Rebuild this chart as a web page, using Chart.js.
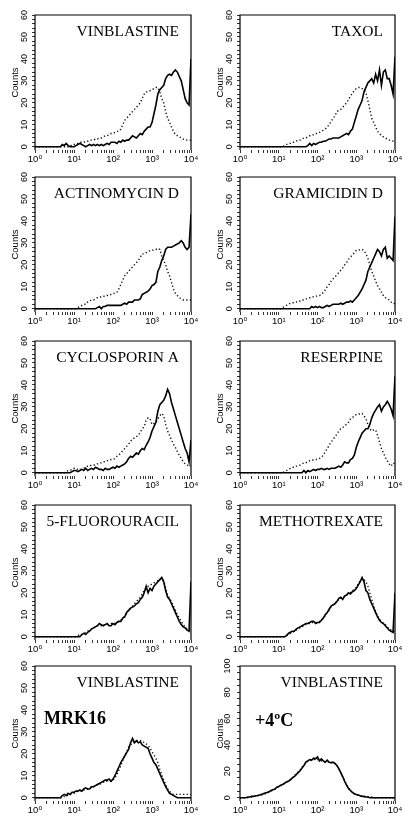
<!DOCTYPE html>
<html><head><meta charset="utf-8">
<script src="https://cdn.jsdelivr.net/npm/chart.js@4.4.0/dist/chart.umd.min.js"></script>
<style>
html,body{margin:0;padding:0;background:#fff;}
body{width:411px;height:829px;position:relative;overflow:hidden;}
canvas{position:absolute;}
</style></head><body>
<script>
// ---- channel positions (log10 of fluorescence) ----
const channelExp = [0,0.05,0.1,0.15,0.2,0.25,0.3,0.35,0.4,0.45,0.5,0.55,0.6,0.65,0.7,0.75,0.8,0.85,0.9,0.95,
1,1.05,1.1,1.15,1.2,1.25,1.3,1.35,1.4,1.45,1.5,1.55,1.6,1.65,1.7,1.75,1.8,1.85,1.9,1.95,
2,2.05,2.1,2.15,2.2,2.25,2.3,2.35,2.4,2.45,2.5,2.55,2.6,2.65,2.7,2.75,2.8,2.85,2.9,2.95,
3,3.05,3.1,3.15,3.2,3.25,3.3,3.35,3.4,3.45,3.5,3.55,3.6,3.65,3.7,3.75,3.8,3.85,3.9,3.95,4];

// ---- counts ----
const vinblastineSolid = [0,0,0,0,0,0,0,0,0,0,0,0,0,0,1,0.5,1.5,0.5,0,0,
0,0.5,1,1.5,1,0.5,0,0.5,1,0.5,1,0.5,1,0.5,1,0.5,1,1.5,1,2,
2,2,1.5,2.5,2,3,2.5,3,3,4,5,4.5,4,5,6,5.5,7,8,9,9,
11,15,19,24,26,27,28,31,32.5,33,32.5,34,35,34,32,30,26,22,20,19,40];
const vinblastineDotted = [0,0,0,0,0,0,0,0,0,0,0,0,0,0,0,0,0,0,0,1,
1,1.5,1.5,2,2,2,2.5,2.5,3,3,3,3.5,3.5,4,4,4.5,5,5,5.5,6,
6,6.5,7,7,8,10,12,13,14,15,16,17,18,19,20,22,24,25,25,25.5,
26,26.5,27,27,25,22,20,16,13,11,9,7,5.5,5,4.5,4,3.5,3,3,3,3];

const taxolSolid = [0,0,0,0,0,0,0,0,0,0,0,0,0,0,0,0,0,0,0,0,
0,0,0,0,0,0,0,0,0,0,0,0,0,0,0,0.5,1.5,0.5,1.5,1,
1.5,2,2,2.5,2.5,3,3.5,3.5,4,4,4,4,4.5,5,5.5,6,5.5,7,8,11,
14,17,19,21,25,27,29,30,31,29,33,30,35,28,34,35,31,31,28,24,41];
const taxolDotted = [0,0,0,0,0,0,0,0,0,0,0,0,0,0,0,0,0,0,0,0,
0,0,0,0.5,1,1.5,1.5,2,2,2.5,3,3,3.5,4,4,4.5,5,5,5.5,6,
6,6.5,7,7.5,8,9,10,11.5,13,14,16,16.5,17,18,19,20,21.5,23,24.5,25.5,
26.5,27,27,26.5,26,24.5,21,17,13,11,9,7,6,5,4.5,4,3.5,3,3,2.5,2];

const actinomycinSolid = [0,0,0,0,0,0,0,0,0,0,0,0,0,0,0,0,0,0,0,0,
0,0,0,0,0,0,0,0,0,0,0,0,0.5,1,0,1,1,1.5,1.5,1.5,
1.5,1.5,1.5,1.5,1.5,2,2.5,2,3,3,3,4,4,4,4.5,6.5,7,7.5,8,9,
10.5,11,12,17,19,22,24,27,28,28,28,28.5,29,29.5,30,31,30,28,27,28,43];
const actinomycinDotted = [0,0,0,0,0,0,0,0,0,0,0,0,0,0,0,0,0,0,0,0,
0,0,0.5,1,1.5,2,2,3,3.5,4,4,4.5,5,5,5.5,5.5,6,6,6.5,6.5,
7,7,7.5,9,11,13,15,16,17,18,19,20,21,22,23.5,25,25,25.5,26,26.5,
26.5,27,27,27.5,27,24,22,20,17,15,12,9,7,6,5,4.5,4,4,4,4,4];

const gramicidinSolid = [0,0,0,0,0,0,0,0,0,0,0,0,0,0,0,0,0,0,0,0,
0,0,0,0,0,0,0,0,0,0,0,0,0,0,0,0,0,1,0.5,1,
0.5,1,0.5,0.5,1,1.5,1,1.5,2,2,2,2,2.5,2,2.5,3,3,3.5,3,4,
5,6,7.5,9,11,13,17,19,21,23,25,27,26,24,27,28,23,24,23,22,42];
const gramicidinDotted = [0,0,0,0,0,0,0,0,0,0,0,0,0,0,0,0,0,0,0,0,
0,0,0.5,1,1.5,2,2.5,2.5,3,3,3.5,3.5,4,4,4.5,4.5,5,5,5.5,5.5,
6,6,6.5,7.5,8.5,10,11,12.5,13.5,14.5,15.5,16.5,17.5,18.5,20,21,22.5,23.5,24.5,25.5,
26.5,26.5,27,27,26.5,25,23,20,17,15,12.5,10.5,9,7.5,6,5,4.5,4,3,3,2];

const cyclosporinSolid = [0,0,0,0,0,0,0,0,0,0,0,0,0,0,0,0,0,0,0,0.5,
1,1,0.5,1,1.5,1,2,1,1.5,2,1.5,2.5,2,1.5,1.5,1,2,1.5,1.5,2,
2.5,2,3,2.5,3,3.5,4,5,6.5,7.5,7,8,9,8.5,10,11,10.5,12.5,14,16,
19,21,23,28,31,32,33,35,38,36,32,29,26,23,20,17,14,11,9,5,15];
const cyclosporinDotted = [0,0,0,0,0,0,0,0,0,0,0,0,0,0,0,0,0.5,1,1,1.5,
2,2,1.5,1.5,1.5,2,2.5,3,3,3.5,3.5,3.5,4,4.5,4.5,5,5,5.5,5.5,6,
6,6.5,7.5,8,9,10,11,12,13,14.5,15,16,16.5,17,18.5,20,21,24,25,24.5,
22,22.5,23,24.5,26,27,26,22,19,17,15,13,11.5,9.5,8,6.5,5,4,3.5,3,3];

const reserpineSolid = [0,0,0,0,0,0,0,0,0,0,0,0,0,0,0,0,0,0,0,0,
0,0,0,0,0,0,0,0,0,0,0,0,0,1,0,1,0.5,1,1.5,1,
1.5,1.5,2,1.5,1.5,2,1.5,2,2,2,2.5,3,2.5,3.5,5,4.5,4.5,6,6.5,8,
11.5,14,16,18,19,20,20,22,25,27,28.5,30,31,28,30,31,32.5,31,29,26,44];
const reserpineDotted = [0,0,0,0,0,0,0,0,0,0,0,0,0,0,0,0,0,0,0,0,
0,0,0,0.5,1,1.5,2,2.5,2.5,3,3,3.5,4,4.5,4.5,5,5.5,5.5,6,6,
6,6.5,7,8,9.5,11,12.5,14,15,16.5,17.5,19,20,20.5,21.5,22,23,24.5,25,26,
26.5,26.5,27,27,26,24.5,22,20,19,19.5,19.5,17,14,11,9,7,5.5,4,3,4.5,4];

const fluorouracilSolid = [0,0,0,0,0,0,0,0,0,0,0,0,0,0,0,0,0,0,0,0,
0,0,0,0,1,1.5,1,2,2.5,3.5,4,4.5,5,6,5.5,5,5.5,6,5,5,
6,5.5,6.5,7,7,8.5,9,11,12,13,13.5,14,15,15.5,17,18,20,23,20,22,
21,23,24,25,26,27,25,21,18,17,15,13,11,9,7,5.5,4.5,4,3,2.5,25];
const fluorouracilDotted = [0,0,0,0,0,0,0,0,0,0,0,0,0,0,0,0,0,0,0,0,
0,0,0.5,1,1,1.5,2,2.5,3,3.5,4,4.5,5,5,5,5.5,5.5,5.5,5.5,6,
6,6,6.5,7,7.5,8.5,9.5,11,12,13,14,15,16,17,18,19.5,21,22,23,23.5,
24,24.5,25,25.5,26,26.5,25.5,22,19,17.5,16,14,12,10,8.5,7,5.5,4.5,3.5,3,3];

const methotrexateSolid = [0,0,0,0,0,0,0,0,0,0,0,0,0,0,0,0,0,0,0,0,
0,0,0,0,0.5,1.5,2,2.5,2.5,3.5,4,4.5,5,5.5,6,6,6.5,7,7,6,
6.5,6.5,7.5,8.5,10,11,12.5,14,14.5,15,16,17.5,18,17,18.5,19,20,19.5,20.5,21,
22,23.5,25,27,25,21,20,17,15,13,11,9,7.5,6.5,6,5,4,3,2.5,2,20];
const methotrexateDotted = [0,0,0,0,0,0,0,0,0,0,0,0,0,0,0,0,0,0,0,0,
0,0,0,0,0.5,1,1.5,2,2.5,3,3.5,4,4.5,5,5.5,6,6,6.5,6.5,6.5,
6.5,7,7.5,8.5,9.5,11,12,13.5,14.5,15.5,16,17,17.5,18,18.5,19,19.5,20,21,21.5,
22.5,24,25.5,26.5,26,25,23,20,17,14,11.5,9.5,8,7,6,5.5,4.5,3.5,3,2.5,2];

const mrk16Solid = [0,0,0,0,0,0,0,0,0,0,0,0,0,0,1,1.5,1,2,1.5,2.5,
2.5,3,3,3.5,3,4,4.5,4,4,5,5,5.5,6,6.5,7,7.5,8,8,8.5,7.5,
8.5,10,12,14,16,17.5,19,20.5,22,25,27,25,26,25,25.5,24,23.5,23,22.5,20,
18,16,15,13,11,9,7,5,3.5,2,1.5,1,0.5,0,0,0,0,0,0,0,0];
const mrk16Dotted = [0,0,0,0,0,0,0,0,0,0,0,0,0,0,0,0.5,1,1,1.5,2,
2,2.5,3,3,3.5,3.5,4,4,4.5,5,5,5.5,6,6,6.5,7,7.5,7.5,7.5,7.5,
8,9,10.5,12.5,14.5,17,19,21,23,24,25,25.5,26,26,26,26,25,24.5,24,22.5,
21,19.5,18,16,13,10.5,8,6,4,3,2,1.5,1.5,1.5,1.5,1.5,1.5,1.5,1.5,1.5,1.5];

const coldSolid = [0,0,0,0,0.5,0.5,1,1,1.5,1.5,2,2.5,3,3.5,4,4.5,5.5,6,6.5,8,
8.5,9.5,10,11,12,12.5,13.5,15,16,17.5,19,20.5,22.5,24.5,27,28,29,28.5,30,29.5,
31,28,29.5,28,27,28.5,27,26.5,27,26,24.5,22,19,16,12.5,9.5,7,5.5,4,3,
2.5,2,1.5,1,1,0.5,0.5,0,0,0,0,0,0,0,0,0,0,0,0,0,0];
const coldDotted = [0,0,0,0,0,0.5,0.5,1,1,1.5,2,2,2.5,3,3.5,4.5,5,6,6.5,7.5,
8.5,9,10,11,12,13,14,15,16.5,18,19.5,21,23,25,26.5,27.5,28,28.5,29,29,
29,28.5,28,27.5,27,27,27,27,26.5,26,24.5,22,19,16,13,10,7.5,5.5,4,3,
2.5,2,1.5,1,1,0.5,0.5,0.5,0.5,0,0,0,0,0,0,0,0,0,0,0,0];

// ---- texts & ticks ----
const panelTitles = ['VINBLASTINE','TAXOL','ACTINOMYCIN D','GRAMICIDIN D','CYCLOSPORIN A',
  'RESERPINE','5-FLUOROURACIL','METHOTREXATE','VINBLASTINE','VINBLASTINE'];
const panelNotes = ['','','','','','','','','MRK16','+4ºC'];
const solidSeries = [vinblastineSolid,taxolSolid,actinomycinSolid,gramicidinSolid,cyclosporinSolid,
  reserpineSolid,fluorouracilSolid,methotrexateSolid,mrk16Solid,coldSolid];
const dottedSeries = [vinblastineDotted,taxolDotted,actinomycinDotted,gramicidinDotted,cyclosporinDotted,
  reserpineDotted,fluorouracilDotted,methotrexateDotted,mrk16Dotted,coldDotted];
const panelYMax = [60,60,60,60,60,60,60,60,60,100];
const decadeValues = [1,10,100,1000,10000];
const xTickLabels = ['10⁰','10¹','10²','10³','10⁴'];
const yLabels60 = [0,10,20,30,40,50,60];
const yLabels100 = [0,20,40,60,80,100];
const yAxisTitle = 'Counts';

// ---- layout (not data) ----
const colLeft = [0,205], colWidth = [205,206], colRightPad = [14,16];
const rowTop = [5,167,331,495,656];
const canvasH = 162;
const noteOffset = {8:[9,57.5], 9:[15,60]};

const SANS = '"Liberation Sans", Arial, "DejaVu Sans", sans-serif';
const SERIF = '"Liberation Serif", "Times New Roman", serif';

const decor = {
  id: 'decor',
  afterDatasetsDraw(chart, args, opts) {
    const {ctx, chartArea: {left, right, top, bottom}} = chart;
    ctx.save();
    ctx.strokeStyle = '#000';
    ctx.lineWidth = 1.2;
    ctx.beginPath();
    ctx.moveTo(left, bottom); ctx.lineTo(left, top); ctx.lineTo(right, top); ctx.lineTo(right, bottom);
    ctx.stroke();
    ctx.fillStyle = '#000';
    ctx.font = '15.5px ' + SERIF;
    ctx.textAlign = 'right';
    ctx.textBaseline = 'alphabetic';
    ctx.fillText(opts.title, right - 12, top + 21);
    if (opts.note) {
      ctx.font = 'bold 18px ' + SERIF;
      ctx.textAlign = 'left';
      ctx.fillText(opts.note, left + opts.noteDx, top + opts.noteDy);
    }
    ctx.restore();
  }
};

for (let i = 0; i < 10; i++) {
  const col = i % 2, row = Math.floor(i / 2);
  const cv = document.createElement('canvas');
  cv.width = colWidth[col]; cv.height = canvasH;
  cv.style.left = colLeft[col] + 'px'; cv.style.top = rowTop[row] + 'px';
  cv.style.width = colWidth[col] + 'px'; cv.style.height = canvasH + 'px';
  document.body.appendChild(cv);
  const yMax = panelYMax[i];
  const yStep = yMax === 100 ? 5 : 2;
  const yLab = yMax === 100 ? yLabels100 : yLabels60;
  const mk = arr => channelExp.map((e, k) => ({x: Math.pow(10, e), y: arr[k]}));
  const note = noteOffset[i] || [0,0];
  new Chart(cv, {
    type: 'line',
    data: {datasets: [
      {data: mk(solidSeries[i]), borderColor: '#000', borderWidth: 1.6, pointRadius: 0, tension: 0, fill: false},
      {data: mk(dottedSeries[i]), borderColor: '#111', borderWidth: 1.4, borderDash: [1.3, 2.3], pointRadius: 0, tension: 0, fill: false}
    ]},
    options: {
      responsive: false, animation: false, devicePixelRatio: 1,
      layout: {padding: {top: 10, right: colRightPad[col], bottom: 0, left: 0}},
      plugins: {legend: {display: false}, tooltip: {enabled: false},
        decor: {title: panelTitles[i], note: panelNotes[i], noteDx: note[0], noteDy: note[1]}},
      scales: {
        x: {
          type: 'logarithmic', min: 1, max: 10000,
          afterBuildTicks: s => {
            const t = [];
            for (let d = 0; d < 4; d++) for (let k = 1; k <= 9; k++) t.push({value: decadeValues[d] * k});
            t.push({value: 10000});
            s.ticks = t;
          },
          afterFit: s => { s.height = 17; },
          ticks: {autoSkip: false, maxRotation: 0, minRotation: 0, padding: 1, color: '#000',
            font: {family: SANS, size: 9.5},
            callback: v => { const j = decadeValues.indexOf(v); return j >= 0 ? xTickLabels[j] : ''; }},
          grid: {display: true, drawOnChartArea: false, drawTicks: true, tickLength: 3, color: '#000', lineWidth: 0.8},
          border: {display: false}
        },
        y: {
          type: 'linear', min: yMax === 100 ? -2.5 : -1.5, max: yMax,
          afterBuildTicks: s => {
            const t = [];
            for (let v = 0; v <= yMax; v += yStep) t.push({value: v});
            s.ticks = t;
          },
          afterFit: s => { s.width = 35; },
          ticks: {autoSkip: false, minRotation: 90, maxRotation: 90, crossAlign: 'center', padding: 2, color: '#000',
            font: {family: SANS, size: 9},
            callback: v => yLab.includes(v) ? String(v) : ''},
          title: {display: true, text: yAxisTitle, color: '#000', font: {family: SANS, size: 9.5}, padding: {top: 10, bottom: 0}},
          grid: {display: true, drawOnChartArea: false, drawTicks: true, tickLength: 3, color: '#000', lineWidth: 0.8},
          border: {display: false}
        }
      }
    },
    plugins: [decor]
  });
}
</script>
</body></html>
